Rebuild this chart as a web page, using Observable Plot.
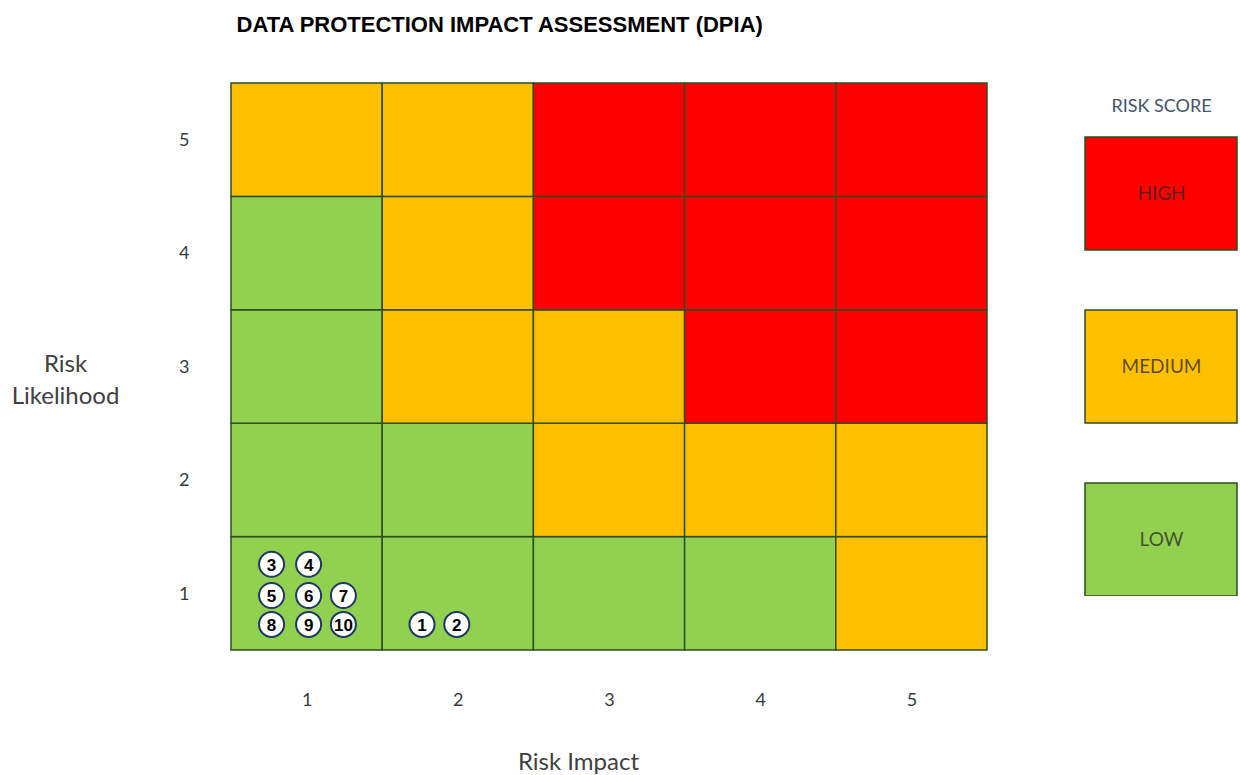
<!DOCTYPE html>
<html><head><meta charset="utf-8">
<script src="https://cdn.jsdelivr.net/npm/d3@7"></script>
<script src="https://cdn.jsdelivr.net/npm/@observablehq/plot@0.6"></script>
<style>
body{margin:0;background:#fff;}
#wrap{position:relative;width:1240px;height:775px;overflow:hidden;}
#legend{position:absolute;left:1080px;top:90px;}
</style>
</head><body><div id="wrap"><div id="chart"></div><div id="legend"></div></div>
<script>
// Axis categories
const impacts = [1, 2, 3, 4, 5];
const likelihoods = [1, 2, 3, 4, 5];
// Risk score per cell, one array per likelihood row (impact 1..5)
const scoreLikelihood1 = ["LOW", "LOW", "LOW", "LOW", "MEDIUM"];
const scoreLikelihood2 = ["LOW", "LOW", "MEDIUM", "MEDIUM", "MEDIUM"];
const scoreLikelihood3 = ["LOW", "MEDIUM", "MEDIUM", "HIGH", "HIGH"];
const scoreLikelihood4 = ["LOW", "MEDIUM", "HIGH", "HIGH", "HIGH"];
const scoreLikelihood5 = ["MEDIUM", "MEDIUM", "HIGH", "HIGH", "HIGH"];
// Legend
const levelNames = ["HIGH", "MEDIUM", "LOW"];
const levelColors = ["#FF0000", "#FFC000", "#92D050"];
// Numbered risks placed in the matrix
const riskIds = [1, 2, 3, 4, 5, 6, 7, 8, 9, 10];
const riskImpact = [1.76, 1.99, 0.765, 1.01, 0.765, 1.01, 1.24, 0.765, 1.01, 1.24];
const riskLikelihood = [0.73, 0.73, 1.26, 1.26, 0.985, 0.985, 0.985, 0.73, 0.73, 0.73];

const scoreRows = [scoreLikelihood1, scoreLikelihood2, scoreLikelihood3, scoreLikelihood4, scoreLikelihood5];
const cells = [];
likelihoods.forEach((l, li) => impacts.forEach((im, ii) => cells.push({impact: im, likelihood: l, level: scoreRows[li][ii]})));
const risks = riskIds.map((id, i) => ({id, impact: riskImpact[i], likelihood: riskLikelihood[i]}));

const gridStroke = "#2e4d1f";
const textColor = "#404040";
const sans = "Lato, 'Open Sans', sans-serif";
const arial = "'Liberation Sans', Arial, sans-serif";

const chart = Plot.plot({
  width: 1240, height: 775,
  marginLeft: 231, marginRight: 253, marginTop: 83, marginBottom: 125,
  x: {domain: [0.5, 5.5]},
  y: {domain: [0.5, 5.5]},
  color: {domain: levelNames, range: levelColors},
  style: {fontFamily: sans, fontSize: "18px", color: textColor, background: "white"},
  marks: [
    Plot.rect(cells, {x1: d => d.impact - 0.5, x2: d => d.impact + 0.5, y1: d => d.likelihood - 0.5, y2: d => d.likelihood + 0.5, fill: "level", stroke: gridStroke, strokeWidth: 1.5}),
    Plot.axisX({ticks: impacts, tickSize: 0, tickPadding: 43, label: null, tickFormat: d => d, fill: "#333d3d", fontSize: 18}),
    Plot.axisY({ticks: likelihoods, tickSize: 0, tickPadding: 42, label: null, tickFormat: d => d, fill: "#333d3d", fontSize: 18}),
    Plot.dot(risks, {x: "impact", y: "likelihood", r: 12.5, fill: "white", stroke: "#1f3864", strokeWidth: 2}),
    Plot.text(risks, {x: "impact", y: "likelihood", text: "id", fontWeight: "bold", fontSize: 17, fontFamily: arial, fill: "black", dy: 1, letterSpacing: d => d.id >= 10 ? "-2px" : null}),
    Plot.text(["DATA PROTECTION IMPACT ASSESSMENT (DPIA)"], {frameAnchor: "top-left", dx: 5, dy: -59, lineAnchor: "middle", textAnchor: "start", fontWeight: "bold", fontSize: 22, fontFamily: arial, fill: "black"}),
    Plot.text(["Risk\nLikelihood"], {frameAnchor: "left", dx: -166, dy: 11, lineAnchor: "middle", textAnchor: "middle", fontSize: 24, lineHeight: 1.3, fill: textColor}),
    Plot.text(["Risk Impact"], {frameAnchor: "bottom", dx: -31, dy: 112, lineAnchor: "middle", textAnchor: "middle", fontSize: 24, fill: textColor})
  ]
});
document.getElementById("chart").append(chart);

const legend = Plot.plot({
  width: 160, height: 506,
  marginLeft: 5, marginRight: 3, marginTop: 47, marginBottom: 0,
  x: {domain: ["score"], axis: null, padding: 0},
  y: {domain: levelNames, axis: null, paddingInner: 0.347, paddingOuter: 0},
  color: {domain: levelNames, range: levelColors},
  style: {fontFamily: sans, background: "white"},
  marks: [
    Plot.cell(levelNames, {x: () => "score", y: d => d, fill: d => d, stroke: gridStroke, strokeWidth: 1.5}),
    Plot.text(levelNames, {x: () => "score", y: d => d, text: d => d, fontSize: 19, fill: "#262626", fillOpacity: 0.75}),
    Plot.text(["RISK SCORE"], {frameAnchor: "top", dy: -31, lineAnchor: "middle", fontSize: 18, fill: "#44546a"})
  ]
});
document.getElementById("legend").append(legend);
</script>
</body></html>
